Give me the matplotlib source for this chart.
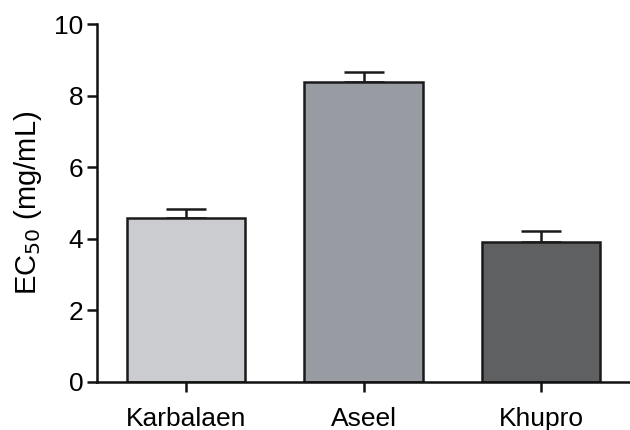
import matplotlib
matplotlib.use("Agg")
import matplotlib.pyplot as plt

categories = ["Karbalaen", "Aseel", "Khupro"]
values = [4.58, 8.39, 3.90]
errors = [0.25, 0.27, 0.32]
colors = ["#cbcccf", "#989ba2", "#5f6062"]

plt.rcParams['font.family'] = ['Liberation Sans', 'DejaVu Sans']

fig = plt.figure(figsize=(6.3, 4.3), dpi=100)
ax = fig.add_axes([0.154, 0.112, 0.846, 0.832])

x = list(range(len(categories)))
ax.bar(x, values, width=0.667, color=colors, edgecolor="#1a1a1a", linewidth=1.8, zorder=2)
for xi, v, e in zip(x, values, errors):
    ax.errorbar([xi], [v], yerr=[[0], [e]], fmt="none", ecolor="#1a1a1a",
                elinewidth=1.8, capsize=14.5, capthick=1.8, zorder=1)

ax.set_xlim(-0.5, 2.5)
ax.set_ylim(0, 10)
ax.set_yticks([0, 2, 4, 6, 8, 10])
ax.set_xticks(x)
ax.set_xticklabels(categories)
ax.spines['top'].set_visible(False)
ax.spines['right'].set_visible(False)
for s in ['left', 'bottom']:
    ax.spines[s].set_linewidth(1.8)
    ax.spines[s].set_color("#111111")
ax.tick_params(axis='both', labelsize=19, width=1.8, length=7, color="#111111")
ax.tick_params(axis='y', pad=3)
ax.tick_params(axis='x', pad=11)
ax.set_ylabel("EC$_{50}$ (mg/mL)", fontsize=21, labelpad=7)

fig.savefig("out.png", dpi=100)
